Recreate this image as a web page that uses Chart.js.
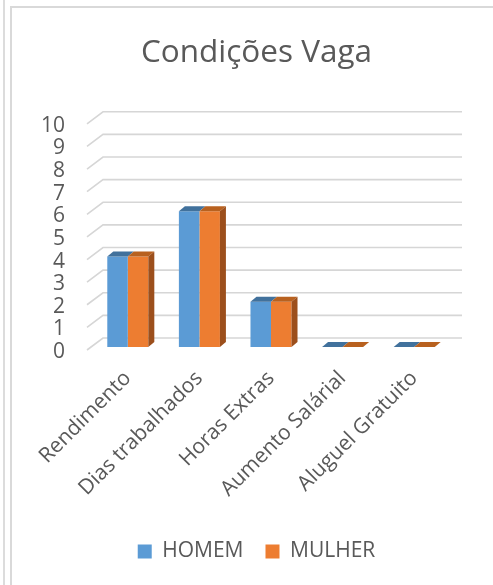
<!DOCTYPE html>
<html>
<head>
<meta charset="utf-8">
<script src="https://cdn.jsdelivr.net/npm/chart.js@4"></script>
<style>
  html, body { margin: 0; padding: 0; background: #fff; overflow: hidden; }
  #wrap { position: relative; width: 493px; height: 585px; }
  #line1 { position: absolute; left: 3px; top: 0; width: 0; height: 585px; border-left: 2px solid #dcdcdc; }
  #frame { position: absolute; left: 10px; top: 6px; width: 500px; height: 600px; border-left: 2px solid #d9d9d9; border-top: 2px solid #d9d9d9; }
  canvas { position: absolute; left: 0; top: 0; }
</style>
</head>
<body>
<div id="wrap">
  <div id="line1"></div>
  <div id="frame"></div>
  <canvas id="c" width="493" height="585"></canvas>
</div>
<script>
const categories = ["Rendimento", "Dias trabalhados", "Horas Extras", "Aumento Salárial", "Aluguel Gratuito"];
const homem = [4, 6, 2, 0, 0];
const mulher = [4, 6, 2, 0, 0];
const seriesNames = ["HOMEM", "MULHER"];
const titleText = "Condições Vaga";
const yMin = 0, yMax = 10, yStep = 1;

const FONT = "'Open Sans', sans-serif";
const TEXT = "#595959";
const DX = 6, DY = -5;

const wallPlugin = {
  id: 'wall3d',
  beforeDatasetsDraw(chart) {
    const ctx = chart.ctx, y = chart.scales.y, a = chart.chartArea;
    ctx.save();
    ctx.strokeStyle = '#d6d6d6';
    ctx.lineWidth = 1.6;
    for (let v = yMin; v <= yMax; v += yStep) {
      const py = y.getPixelForValue(v);
      ctx.beginPath();
      ctx.moveTo(a.left - 5, py + 3);
      ctx.lineTo(a.left + 11, py - 9);
      ctx.lineTo(a.right + 12, py - 9);
      ctx.stroke();
    }
    ctx.restore();
  },
  afterDatasetsDraw(chart) {
    const ctx = chart.ctx;
    ctx.save();
    chart.data.datasets.forEach((ds, di) => {
      const meta = chart.getDatasetMeta(di);
      meta.data.forEach(bar => {
        const p = bar.getProps(['x', 'y', 'base', 'width'], true);
        const l = p.x - p.width / 2, r = p.x + p.width / 2;
        const top = Math.min(p.y, p.base), bot = Math.max(p.y, p.base);
        ctx.fillStyle = ds.topColor;
        ctx.beginPath();
        ctx.moveTo(l, top);
        ctx.lineTo(r, top);
        ctx.lineTo(r + DX, top + DY);
        ctx.lineTo(l + DX, top + DY);
        ctx.closePath();
        ctx.fill();
        if (di === chart.data.datasets.length - 1) {
          ctx.fillStyle = ds.sideColor;
          ctx.beginPath();
          ctx.moveTo(r, top);
          ctx.lineTo(r + DX, top + DY);
          ctx.lineTo(r + DX, bot + DY);
          ctx.lineTo(r, bot);
          ctx.closePath();
          ctx.fill();
        }
      });
    });
    ctx.restore();
  }
};

new Chart(document.getElementById('c'), {
  type: 'bar',
  data: {
    labels: categories,
    datasets: [
      { label: seriesNames[0], data: homem, backgroundColor: '#5b9bd5', topColor: '#41719c', sideColor: '#41719c', borderWidth: 0, yAxisID: 'y' },
      { label: seriesNames[1], data: mulher, backgroundColor: '#ed7d31', topColor: '#b8611f', sideColor: '#9c4f1c', borderWidth: 0, yAxisID: 'y' }
    ]
  },
  options: {
    responsive: false,
    animation: false,
    devicePixelRatio: 1,
    categoryPercentage: 0.573,
    barPercentage: 1.0,
    layout: { padding: { left: 20, right: 0, top: 0, bottom: 13 } },
    plugins: {
      title: {
        display: true,
        text: titleText,
        color: TEXT,
        font: { family: FONT, size: 31.5, weight: 'normal' },
        padding: { top: 34, bottom: 49 }
      },
      legend: {
        position: 'bottom',
        labels: {
          color: TEXT,
          font: { family: FONT, size: 21 },
          boxWidth: 14,
          boxHeight: 14,
          padding: 22
        }
      },
      tooltip: { enabled: false }
    },
    scales: {
      x: {
        grid: { display: false, drawTicks: false },
        border: { display: false },
        ticks: {
          color: TEXT,
          font: { family: FONT, size: 21 },
          maxRotation: 45, minRotation: 45,
          autoSkip: false,
          padding: 19
        },
        afterFit(s) { s.height = 172; }
      },
      y: {
        min: yMin, max: yMax,
        grid: { display: false, drawTicks: false },
        border: { display: false },
        ticks: {
          stepSize: yStep,
          autoSkip: false,
          color: TEXT,
          font: { family: FONT, size: 21 },
          padding: 27,
          labelOffset: 5
        },
        afterFit(s) { s.width = 72; }
      },
      yr: {
        position: 'right',
        min: yMin, max: yMax,
        grid: { display: false, drawTicks: false },
        border: { display: false },
        ticks: { display: false },
        afterFit(s) { s.width = 43; }
      }
    }
  },
  plugins: [wallPlugin]
});
</script>
</body>
</html>
